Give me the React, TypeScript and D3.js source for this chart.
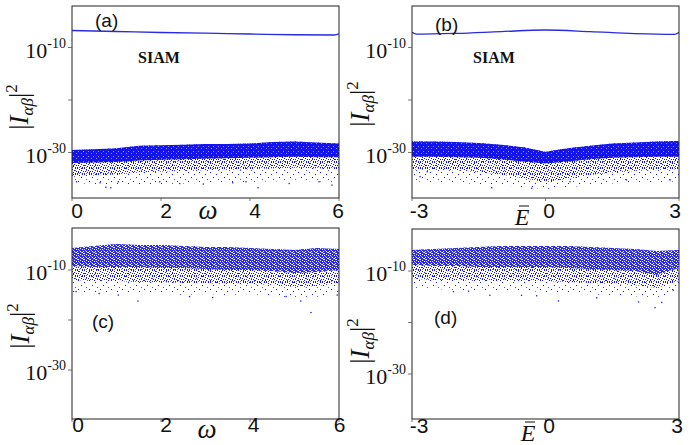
import React from "react";
import * as d3 from "d3";

// ---------- DATA (log10 of |I_ab|^2) ----------
const omegaStations = [0, 0.5, 1, 1.5, 2, 2.5, 3, 3.5, 4, 4.5, 5, 5.5, 6];
const energyStations = [-3, -2.5, -2, -1.5, -1, -0.5, 0, 0.5, 1, 1.5, 2, 2.5, 3];

// panel (a)
const aLineX = [0, 1, 2, 3, 4, 5, 5.9, 6];
const aLineY = [-6.76, -6.95, -7.14, -7.28, -7.43, -7.57, -7.62, -7.39];
const aTop = [-29.5, -29.4, -29.2, -28.7, -28.6, -28.5, -28.4, -28.4, -28.3, -28.0, -27.9, -28.1, -28.3];
const aCore = [-32.0, -31.9, -31.8, -31.5, -31.4, -31.3, -31.2, -31.1, -31.0, -30.9, -30.8, -30.9, -30.9];
const aMid = [-34.6, -34.4, -34.2, -33.8, -33.6, -33.5, -33.4, -33.3, -33.2, -33.0, -32.9, -33.0, -33.2];
const aFloor = [-35.8, -36.0, -36.2, -36.2, -36.0, -35.9, -35.8, -35.7, -35.6, -35.5, -35.4, -35.5, -35.6];
const aOutX = [0.1, 0.63, 0.76, 0.87, 1.04, 1.97, 2.42, 2.95, 3.61, 3.91, 4.18, 4.88, 5.55, 5.84];
const aOutY = [-35.56, -35.75, -36.6, -36.7, -35.56, -35.56, -35.9, -36.0, -35.75, -35.56, -36.7, -35.9, -35.56, -36.2];

// panel (b)
const bLineX = [-3, -2.9, -2, -1, 0, 1, 2, 2.9, 3];
const bLineY = [-7.1, -7.45, -7.3, -6.97, -6.67, -6.97, -7.35, -7.5, -7.15];
const bTop = [-27.9, -27.9, -28.0, -28.2, -28.5, -29.0, -29.85, -29.2, -28.7, -28.3, -28.1, -27.9, -27.8];
const bCore = [-30.8, -30.8, -30.9, -31.0, -31.3, -31.7, -32.1, -31.7, -31.3, -31.0, -30.9, -30.8, -30.8];
const bMid = [-33.2, -33.3, -33.4, -33.7, -34.2, -34.9, -35.6, -35.0, -34.3, -33.8, -33.5, -33.3, -33.2];
const bFloor = [-35.5, -35.6, -35.8, -36.0, -36.3, -36.6, -37.0, -36.6, -36.2, -35.9, -35.7, -35.6, -35.5];
const bOutX = [-2.82, -2.66, -1.21, -0.31, 0.55, 1.82, 2.8];
const bOutY = [-34.6, -33.65, -36.7, -36.8, -35.56, -35.2, -35.2];

// panel (c)
const cTop = [-5.6, -5.2, -4.8, -5.0, -5.0, -5.2, -5.4, -5.4, -5.6, -5.8, -6.0, -5.6, -5.8];
const cCore = [-9.2, -9.4, -9.4, -9.4, -9.6, -9.6, -9.8, -10.0, -10.0, -10.2, -10.6, -10.4, -10.0];
const cMid = [-12.0, -12.2, -12.2, -12.4, -12.4, -12.6, -12.6, -12.8, -12.8, -13.0, -13.4, -13.2, -12.6];
const cFloor = [-14.4, -14.6, -14.4, -14.8, -14.6, -15.0, -14.8, -15.0, -14.8, -15.2, -15.6, -15.4, -14.6];
const cOutX = [0.09, 0.61, 1.04, 1.48, 2.64, 3.16, 4.81, 5.14, 5.37, 5.96];
const cOutY = [-14.3, -14.7, -15.0, -16.2, -15.3, -15.5, -15.3, -16.2, -18.5, -15.0];

// panel (d)
const dTop = [-5.92, -5.73, -5.53, -5.34, -5.15, -5.15, -5.15, -5.15, -5.34, -5.53, -5.73, -6.12, -5.92];
const dCore = [-8.83, -9.03, -9.03, -9.22, -9.22, -9.22, -9.22, -9.42, -9.61, -9.81, -10.0, -10.78, -9.42];
const dMid = [-11.55, -11.75, -11.75, -11.94, -11.94, -11.94, -11.94, -12.14, -12.33, -12.52, -12.72, -13.3, -11.94];
const dFloor = [-13.3, -13.5, -13.7, -13.9, -13.9, -13.9, -14.1, -14.3, -14.5, -14.7, -14.9, -15.4, -13.7];
const dOutX = [-2.07, -1.73, -1.25, -0.54, -0.2, 0.29, 1.15, 2.09, 2.46, 2.61, 2.87];
const dOutY = [-14.0, -13.9, -14.7, -14.7, -14.8, -15.8, -15.2, -16.0, -17.1, -16.1, -13.7];

const omegaTicks = [0, 2, 4, 6];
const energyTicks = [-3, 0, 3];
const yTickExps = [-10, -30];
const yMinorExps = [-10, -20, -30];
const panelLetters = ["(a)", "(b)", "(c)", "(d)"];

// ---------- LAYOUT ----------
const SERIF = "'Liberation Serif', 'DejaVu Serif', serif";
const SANS = "'Liberation Sans', Arial, sans-serif";
const BLUE = "#1414f0";

type PanelCfg = {
  id: string; L: number; R: number; T: number; B: number; y10: number; y30: number;
  xDomain: [number, number]; stations: number[]; top: number[]; core: number[]; mid: number[]; floor: number[];
  outX: number[]; outY: number[]; lineX?: number[]; lineY?: number[];
  ticks: number[]; tickDx: number[]; tickBase: number; xlab: "w" | "E"; xlabX: number; xlabY: number;
  letter: string; letterX: number; letterY: number; siam?: [number, number]; ytitleX: number; ytitleY: number;
  solidCore: boolean;
};

const panels: PanelCfg[] = [
  { id: "a", L: 72, R: 339, T: 6, B: 198, y10: 47.5, y30: 152.5, xDomain: [0, 6], stations: omegaStations,
    top: aTop, core: aCore, mid: aMid, floor: aFloor, outX: aOutX, outY: aOutY, lineX: aLineX, lineY: aLineY,
    ticks: omegaTicks, tickDx: [5, 5, 5, -1], tickBase: 218, xlab: "w", xlabX: 208, xlabY: 219,
    letter: panelLetters[0], letterX: 95, letterY: 27, siam: [138, 63], ytitleX: 28, ytitleY: 107, solidCore: true },
  { id: "b", L: 412, R: 679, T: 6, B: 198, y10: 47.5, y30: 152.5, xDomain: [-3, 3], stations: energyStations,
    top: bTop, core: bCore, mid: bMid, floor: bFloor, outX: bOutX, outY: bOutY, lineX: bLineX, lineY: bLineY,
    ticks: energyTicks, tickDx: [7, 3.5, -4], tickBase: 218, xlab: "E", xlabX: 522, xlabY: 225,
    letter: panelLetters[1], letterX: 435, letterY: 31, siam: [473, 63], ytitleX: 369, ytitleY: 104, solidCore: true },
  { id: "c", L: 72, R: 339, T: 228, B: 419, y10: 270, y30: 370, xDomain: [0, 6], stations: omegaStations,
    top: cTop, core: cCore, mid: cMid, floor: cFloor, outX: cOutX, outY: cOutY,
    ticks: omegaTicks, tickDx: [6, 5, 3.5, 0.5], tickBase: 432, xlab: "w", xlabX: 207, xlabY: 438,
    letter: panelLetters[2], letterX: 92, letterY: 328, ytitleX: 29, ytitleY: 326, solidCore: false },
  { id: "d", L: 412, R: 679, T: 229, B: 419, y10: 271, y30: 374, xDomain: [-3, 3], stations: energyStations,
    top: dTop, core: dCore, mid: dMid, floor: dFloor, outX: dOutX, outY: dOutY,
    ticks: energyTicks, tickDx: [7, 3.5, -2], tickBase: 433, xlab: "E", xlabX: 528, xlabY: 441,
    letter: panelLetters[3], letterX: 434, letterY: 324, ytitleX: 369, ytitleY: 341, solidCore: false },
];

const p10 = (v: number) => Math.pow(10, v);

function Panel({ c }: { c: PanelCfg }) {
  const x = d3.scaleLinear().domain(c.xDomain).range([c.L, c.R]);
  const y = d3.scaleLog().domain([1e-30, 1e-10]).range([c.y30, c.y10]);
  const pts = c.stations.map((s, i) => ({ x: s, top: c.top[i], core: c.core[i], mid: c.mid[i], floor: c.floor[i] }));
  type P = (typeof pts)[number];
  const band = (lo: keyof P) =>
    d3.area<P>().x((d) => x(d.x)).y0((d) => y(p10(d[lo] as number))).y1((d) => y(p10(d.top))).curve(d3.curveLinear)(pts) || "";
  const line =
    c.lineX && c.lineY
      ? d3.line<number>().x((d) => x(d)).y((_, i) => y(p10(c.lineY![i]))).curve(d3.curveMonotoneX)(c.lineX) || ""
      : "";
  const clip = `clip-${c.id}`;
  return (
    <g>
      <clipPath id={clip}>
        <rect x={c.L} y={c.T} width={c.R - c.L} height={c.B - c.T} />
      </clipPath>
      <g clipPath={`url(#${clip})`}>
        <path d={band("floor")} fill="url(#sparse)" />
        <path d={band("mid")} fill="url(#mid)" />
        <path d={band("core")} fill={c.solidCore ? "url(#dense)" : "url(#dense2)"} />
        {c.outX.map((ox, i) => (
          <rect key={i} x={x(ox) - 0.6} y={y(p10(c.outY[i])) - 0.6} width={1.3} height={1.3} fill={BLUE} />
        ))}
        {line && <path d={line} fill="none" stroke="#2a2ae0" strokeWidth={1.3} />}
      </g>
      <rect x={c.L} y={c.T} width={c.R - c.L} height={c.B - c.T} fill="none" stroke="#222" strokeWidth={1} />
      {yMinorExps.map((e) => (
        <line key={e} x1={c.L - 4} x2={c.L} y1={y(p10(e))} y2={y(p10(e))} stroke="#555" strokeWidth={0.8} />
      ))}
      {yTickExps.map((e) => (
        <text key={e} x={c.L - 6} y={y(p10(e)) + 10} textAnchor="end" fontFamily={SERIF} fontSize={22} fill="#111">
          10<tspan fontSize={14} dy={-10}>{String(e)}</tspan>
        </text>
      ))}
      {c.ticks.map((t, i) => (
        <g key={t}>
          <line x1={x(t)} x2={x(t)} y1={c.B} y2={c.B + 3} stroke="#555" strokeWidth={0.8} />
          <text x={x(t) + c.tickDx[i]} y={c.tickBase} textAnchor="middle" fontFamily={SANS} fontSize={21} fill="#111">
            {t}
          </text>
        </g>
      ))}
      {c.xlab === "w" ? (
        <text x={c.xlabX} y={c.xlabY} textAnchor="middle" fontFamily={SERIF} fontStyle="italic" fontSize={27} fill="#111">
          ω
        </text>
      ) : (
        <g>
          <text x={c.xlabX} y={c.xlabY} textAnchor="middle" fontFamily={SERIF} fontStyle="italic" fontSize={24} fill="#111">
            E
          </text>
          <line x1={c.xlabX - 3} x2={c.xlabX + 7} y1={c.xlabY - 19} y2={c.xlabY - 19} stroke="#111" strokeWidth={1} />
        </g>
      )}
      <text x={c.letterX} y={c.letterY} fontFamily={SANS} fontSize={19} fill="#111">
        {c.letter}
      </text>
      {c.siam && (
        <text x={c.siam[0]} y={c.siam[1]} fontFamily={SERIF} fontWeight="bold" fontSize={16} fill="#111">
          SIAM
        </text>
      )}
      <text
        transform={`translate(${c.ytitleX},${c.ytitleY}) rotate(-90)`}
        textAnchor="middle"
        fontFamily={SERIF}
        fontSize={27}
        fill="#111"
      >
        |<tspan fontStyle="italic">I</tspan>
        <tspan fontStyle="italic" fontSize={17} dy={5}>αβ</tspan>
        <tspan dy={-5}>|</tspan>
        <tspan fontSize={17} dy={-11}>2</tspan>
      </text>
    </g>
  );
}

export default function App() {
  return (
    <svg width={694} height={445} style={{ position: "absolute", left: 0, top: 0, background: "#fff" }}>
      <defs>
        <pattern id="dense" width={5} height={5} patternUnits="userSpaceOnUse">
          <rect width={5} height={5} fill={BLUE} />
          <rect x={1} y={3} width={1} height={1} fill="#8c8cff" />
          <rect x={3} y={1} width={1} height={1} fill="#9a9aff" />
        </pattern>
        <pattern id="dense2" width={6} height={6} patternUnits="userSpaceOnUse">
          <rect width={6} height={6} fill="#2a2af4" />
          <rect x={0} y={1} width={1} height={1} fill="#fff" />
          <rect x={3} y={0} width={1} height={1} fill="#c8c8ff" />
          <rect x={4} y={3} width={1} height={1} fill="#fff" />
          <rect x={1} y={4} width={1} height={1} fill="#b4b4ff" />
          <rect x={2} y={2} width={1} height={1} fill="#fff" />
          <rect x={5} y={5} width={1} height={1} fill="#fff" />
          <rect x={5} y={1} width={1} height={1} fill="#d0d0ff" />
          <rect x={2} y={5} width={1} height={1} fill="#fff" />
          <rect x={0} y={3} width={1} height={1} fill="#dcdcff" />
          <rect x={4} y={0} width={1} height={1} fill="#fff" />
        </pattern>
        <pattern id="mid" width={7} height={6} patternUnits="userSpaceOnUse">
          <rect x={0} y={0} width={1} height={1} fill={BLUE} />
          <rect x={2} y={1} width={1} height={1} fill={BLUE} />
          <rect x={5} y={0} width={1} height={1} fill={BLUE} />
          <rect x={4} y={2} width={1} height={1} fill={BLUE} />
          <rect x={1} y={3} width={1} height={1} fill={BLUE} />
          <rect x={6} y={3} width={1} height={1} fill={BLUE} />
          <rect x={3} y={4} width={1} height={1} fill={BLUE} />
          <rect x={0} y={5} width={1} height={1} fill={BLUE} />
          <rect x={5} y={5} width={1} height={1} fill={BLUE} />
          <rect x={2} y={5} width={1} height={1} fill="#5a5aff" />
        </pattern>
        <pattern id="sparse" width={11} height={9} patternUnits="userSpaceOnUse">
          <rect x={1} y={1} width={1} height={1} fill={BLUE} />
          <rect x={7} y={3} width={1} height={1} fill={BLUE} />
          <rect x={4} y={6} width={1} height={1} fill={BLUE} />
          <rect x={9} y={8} width={1} height={1} fill="#4a4aff" />
        </pattern>
      </defs>
      {panels.map((c) => (
        <Panel key={c.id} c={c} />
      ))}
    </svg>
  );
}
